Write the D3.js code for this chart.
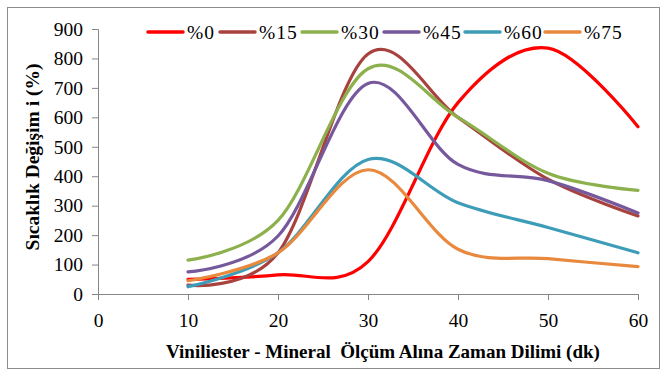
<!DOCTYPE html>
<html>
  <head>
    <style>
      html,
      body { margin: 0; background: #fff; }
      svg { display: block; }
      svg text { font-family: 'Liberation Serif', 'DejaVu Serif', serif; fill: #000; }
    </style>
    <script src="https://d3js.org/d3.v7.js"></script>
  </head>
  <body>
    <svg class="chart"></svg>

    <script>
      const width = 667;
      const height = 376;

      // data
      const times = [10, 20, 30, 40, 50, 60];
      const seriesNames = ['%0', '%15', '%30', '%45', '%60', '%75'];
      const s0 = [50, 65, 110, 650, 835, 568];
      const s15 = [30, 140, 815, 600, 390, 265];
      const s30 = [115, 250, 765, 600, 410, 352];
      const s45 = [75, 197, 715, 440, 385, 275];
      const s60 = [25, 140, 457, 310, 226, 140];
      const s75 = [45, 140, 422, 152, 120, 93];
      const colors = ['#ff0000', '#a8423e', '#8cb04c', '#76589c', '#3d9db8', '#e8893e'];
      const xTicks = [0, 10, 20, 30, 40, 50, 60];
      const yTicks = [0, 100, 200, 300, 400, 500, 600, 700, 800, 900];

      const allSeries = [s0, s15, s30, s45, s60, s75];

      const margin = { left: 98, right: 29, top: 29, bottom: 82 };
      const serif = "'Liberation Serif', 'DejaVu Serif', serif";

      const svg = d3.select('svg')
        .attr('width', width)
        .attr('height', height);

      // outer frame
      svg.append('rect')
        .attr('x', 7.5)
        .attr('y', 7.5)
        .attr('width', 652)
        .attr('height', 361)
        .style('fill', 'none')
        .style('stroke', '#8c8c8c');

      const x = d3.scaleLinear()
        .domain([0, 60])
        .range([margin.left, width - margin.right]);

      const y = d3.scaleLinear()
        .domain([0, 900])
        .range([height - margin.bottom, margin.top]);

      const axisColor = '#868686';

      const xAxis = svg.append('g')
        .attr('transform', `translate(0,${y(0)})`)
        .call(d3.axisBottom(x).tickValues(xTicks).tickSize(6).tickPadding(13));

      const yAxis = svg.append('g')
        .attr('transform', `translate(${x(0)},0)`)
        .call(d3.axisLeft(y).tickValues(yTicks).tickSize(6).tickPadding(9));

      [xAxis, yAxis].forEach((g) => {
        g.attr('font-family', null).attr('font-size', null);
        g.select('.domain').style('stroke', axisColor);
        g.selectAll('.tick line').style('stroke', axisColor);
        g.selectAll('.tick text')
          .style('font-family', serif)
          .style('font-size', '19.5px')
          .style('fill', '#000');
      });

      // lines, smoothed like the spreadsheet
      const line = d3.line()
        .x((d, i) => x(times[i]))
        .y((d) => y(d))
        .curve(d3.curveCardinal.tension(0));

      svg.append('g')
        .selectAll('path')
        .data(allSeries)
        .join('path')
        .attr('d', (d) => line(d))
        .style('fill', 'none')
        .style('stroke', (d, i) => colors[i])
        .style('stroke-width', 3.2)
        .style('stroke-linecap', 'round');

      // legend
      const legendX = [148, 220, 302, 384, 465, 545];
      const legend = svg.append('g')
        .selectAll('g')
        .data(seriesNames)
        .join('g')
        .attr('transform', (d, i) => `translate(${legendX[i]},32)`);

      legend.append('line')
        .attr('x1', 0)
        .attr('x2', 35)
        .style('stroke', (d, i) => colors[i])
        .style('stroke-width', 3.5)
        .style('stroke-linecap', 'round');

      legend.append('text')
        .attr('x', 39)
        .attr('y', 7)
        .style('font-family', serif)
        .style('font-size', '19.5px')
        .style('letter-spacing', '1px')
        .text((d) => d);

      // axis titles
      svg.append('text')
        .attr('x', 383)
        .attr('y', 358)
        .attr('text-anchor', 'middle')
        .style('font-family', serif)
        .style('font-size', '19px')
        .style('font-weight', 'bold')
        .style('white-space', 'pre')
        .text('Viniliester - Mineral  Ölçüm Alına Zaman Dilimi (dk)');

      svg.append('text')
        .attr('transform', 'translate(39,157) rotate(-90)')
        .attr('text-anchor', 'middle')
        .style('font-family', serif)
        .style('font-size', '19.5px')
        .style('font-weight', 'bold')
        .text('Sıcaklık Değişim i (%)');
    </script>
  </body>
</html>
